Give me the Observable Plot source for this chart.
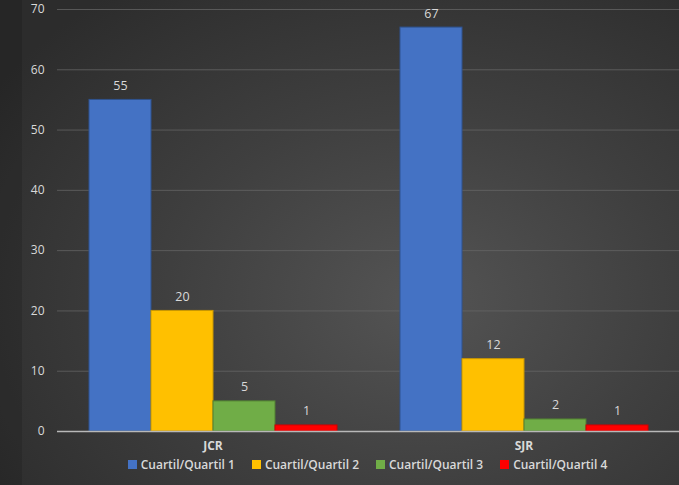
<!DOCTYPE html>
<html>
<head>
<meta charset="utf-8">
<script src="https://cdn.jsdelivr.net/npm/d3@7"></script>
<script src="https://cdn.jsdelivr.net/npm/@observablehq/plot@0.6"></script>
<style>
  html, body { margin: 0; padding: 0; }
  body {
    width: 679px; height: 485px; overflow: hidden;
    background: radial-gradient(ellipse 75% 80% at 62% 62%, #545454 0%, #3f3f3f 50%, #2c2c2c 100%);
    font-family: "Open Sans", "Noto Sans", sans-serif;
    position: relative;
  }
  #strip { position: absolute; left: 0; top: 0; width: 22px; height: 485px; background: rgba(0,0,0,0.12); }
  #chart { position: absolute; left: 0; top: 0; }
  #chart svg { background: transparent !important; }
  svg [aria-label^="fx-axis"] text { font-weight: 700; }
  #legend {
    position: absolute; left: 56px; top: 456px; width: 623px; height: 16px;
    display: flex; justify-content: center; gap: 17px; align-items: center;
    color: #d9d9d9; font-size: 12px; font-weight: 600;
  }
  #legend .item { display: flex; align-items: center; gap: 4px; }
  #legend .sw { width: 9px; height: 9px; display: inline-block; }
</style>
</head>
<body>
<div id="strip"></div>
<div id="chart"></div>
<div id="legend"></div>
<script>
const categories = ["JCR", "SJR"];
const quartiles = ["Cuartil/Quartil 1", "Cuartil/Quartil 2", "Cuartil/Quartil 3", "Cuartil/Quartil 4"];
const jcrValues = [55, 20, 5, 1];
const sjrValues = [67, 12, 2, 1];
const colors = ["#4472C4", "#FFC000", "#70AD47", "#FF0000"];
const strokes = ["#2F528F", "#C99700", "#507E32", "#D00000"];
const yTicks = [0, 10, 20, 30, 40, 50, 60, 70];

const data = [];
[jcrValues, sjrValues].forEach((vals, ci) => {
  vals.forEach((v, qi) => data.push({cat: categories[ci], q: quartiles[qi], v}));
});

const plot = Plot.plot({
  width: 679,
  height: 456,
  marginLeft: 56,
  marginRight: 0,
  marginTop: 9,
  marginBottom: 25,
  style: {background: "transparent", color: "#d9d9d9", fontFamily: "'Open Sans', 'Noto Sans', sans-serif", fontSize: "12px"},
  fx: {domain: categories, padding: 0, label: null, axis: "bottom", tickSize: 0, tickPadding: 10},
  x: {domain: quartiles, padding: 0, paddingOuter: 0.5, axis: null},
  y: {domain: [0, 70], ticks: yTicks, tickSize: 0, tickPadding: 13, label: null, grid: false},
  color: {domain: quartiles, range: colors},
  marks: [
    Plot.ruleY(yTicks.filter(d => d > 0), {stroke: "#6a6a6a", strokeOpacity: 0.7, strokeWidth: 1}),
    Plot.barY(data, {fx: "cat", x: "q", y: "v", fill: "q", stroke: d => strokes[quartiles.indexOf(d.q)], strokeWidth: 1, inset: 0}),
    Plot.ruleY([0], {stroke: "#b8b8b8", strokeWidth: 1.5}),
    Plot.text(data, {fx: "cat", x: "q", y: "v", text: d => String(d.v), dy: -14, fill: "#d9d9d9", fontSize: 12.5})
  ]
});
document.getElementById("chart").appendChild(plot);

const legend = document.getElementById("legend");
quartiles.forEach((q, i) => {
  const item = document.createElement("span");
  item.className = "item";
  const sw = document.createElement("span");
  sw.className = "sw";
  sw.style.background = colors[i];
  const t = document.createElement("span");
  t.textContent = q;
  item.appendChild(sw);
  item.appendChild(t);
  legend.appendChild(item);
});
</script>
</body>
</html>
